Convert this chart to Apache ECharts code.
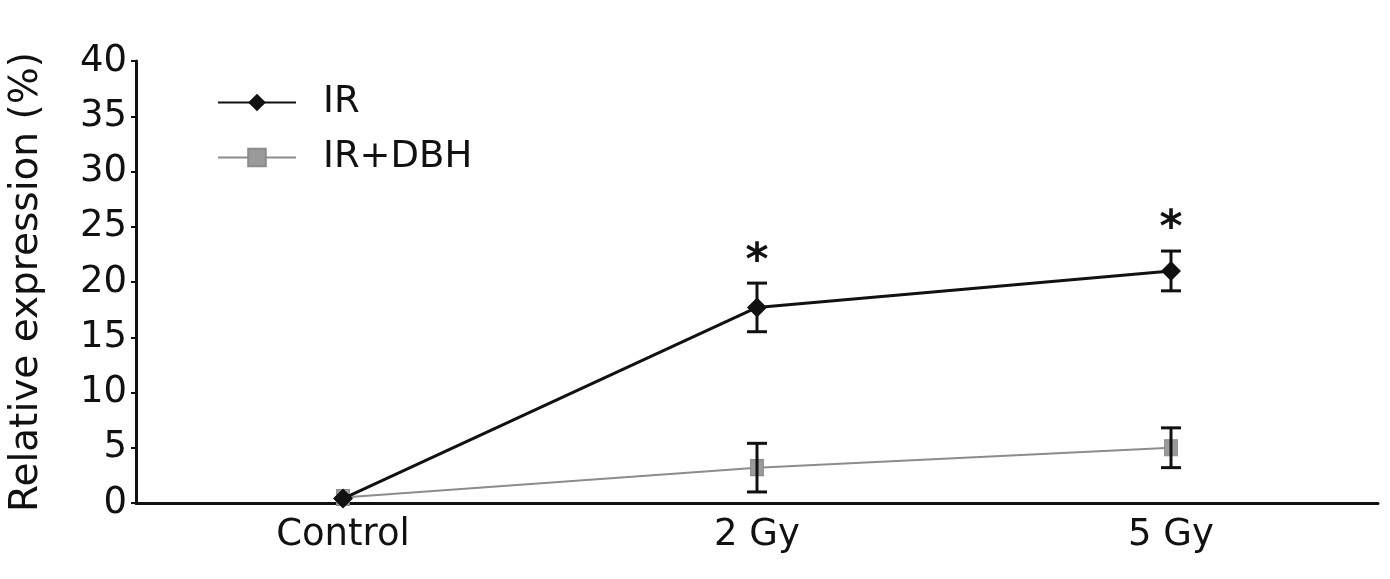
<!DOCTYPE html>
<html>
<head>
<meta charset="utf-8">
<style>html,body{margin:0;padding:0;background:#fff;}#chart{width:1390px;height:579px;}</style>
<script src="https://cdn.jsdelivr.net/npm/echarts@6/dist/echarts.min.js"></script>
</head>
<body>
<div id="chart"></div>
<script>
const categories = ['Control', '2 Gy', '5 Gy'];
const irMean = [0.4, 17.7, 21.0];
const irErr = [0, 2.2, 1.8];
const dbhMean = [0.5, 3.2, 5.0];
const dbhErr = [0, 2.2, 1.8];
const significance = ['', '*', '*'];
const yTicks = [0, 5, 10, 15, 20, 25, 30, 35, 40];

const FONT = 'DejaVu Sans';
const chart = echarts.init(document.getElementById('chart'));

function errData(mean, err, sig) {
  return mean.map((m, i) => [i, m - err[i], m + err[i], sig ? sig[i] : '']);
}

function errRender(params, api) {
  const x = api.value(0);
  const lo = api.coord([x, api.value(1)]);
  const hi = api.coord([x, api.value(2)]);
  const sig = api.value(3);
  const cap = 10;
  const style = { stroke: '#111', lineWidth: 3 };
  const children = [];
  if (hi[1] !== lo[1]) {
    children.push(
      { type: 'line', shape: { x1: hi[0], y1: hi[1], x2: lo[0], y2: lo[1] }, style },
      { type: 'line', shape: { x1: hi[0] - cap, y1: hi[1], x2: hi[0] + cap, y2: hi[1] }, style },
      { type: 'line', shape: { x1: lo[0] - cap, y1: lo[1], x2: lo[0] + cap, y2: lo[1] }, style }
    );
  }
  if (sig) {
    children.push({
      type: 'text',
      style: { text: sig, x: hi[0], y: hi[1] + 1, align: 'center', verticalAlign: 'bottom',
               fontSize: 44, fontWeight: 'bold', fontFamily: FONT, fill: '#111' }
    });
  }
  return { type: 'group', children };
}

chart.setOption({
  animation: false,
  backgroundColor: '#fff',
  grid: { left: 136, right: 12, top: 61, bottom: 76, containLabel: false, outerBoundsMode: 'none' },
  legend: {
    orient: 'vertical', left: 212, top: 79, itemGap: 18,
    itemWidth: 78, itemHeight: 22,
    textStyle: { fontSize: 37, fontFamily: FONT, color: '#111', padding: [0, 0, 0, 22] },
    data: ['IR', 'IR+DBH']
  },
  xAxis: {
    type: 'category', data: categories, boundaryGap: true,
    axisLine: { lineStyle: { color: '#111', width: 3 } },
    axisTick: { inside: true, length: 7, interval: 0, lineStyle: { color: '#111', width: 2 } },
    axisLabel: { fontSize: 37, fontFamily: FONT, color: '#111', margin: 14 },
    splitLine: { show: false }
  },
  yAxis: {
    type: 'value', min: yTicks[0], max: yTicks[yTicks.length - 1], interval: 5,
    name: 'Relative expression (%)', nameLocation: 'middle', nameGap: 90,
    nameTextStyle: { fontSize: 39, fontFamily: FONT, color: '#111' },
    axisLine: { show: true, lineStyle: { color: '#111', width: 3 } },
    axisTick: { show: true, length: 5, lineStyle: { color: '#111', width: 2 } },
    axisLabel: { fontSize: 37, fontFamily: FONT, color: '#111', margin: 9 },
    splitLine: { show: false }
  },
  series: [
    {
      name: 'IR+DBH', type: 'line', data: dbhMean, z: 3,
      symbol: 'rect', symbolSize: [13, 16],
      lineStyle: { color: '#8c8c8c', width: 2 },
      itemStyle: { color: '#9a9a9a', borderColor: '#8c8c8c', borderWidth: 1 }
    },
    {
      name: 'IR', type: 'line', data: irMean, z: 4,
      symbol: 'diamond', symbolSize: 20,
      lineStyle: { color: '#111', width: 3 },
      itemStyle: { color: '#111' }
    },
    {
      name: 'irErr', type: 'custom', renderItem: errRender, z: 5,
      data: errData(irMean, irErr, significance), encode: { x: 0, y: [1, 2] }
    },
    {
      name: 'dbhErr', type: 'custom', renderItem: errRender, z: 5,
      data: errData(dbhMean, dbhErr, null), encode: { x: 0, y: [1, 2] }
    }
  ]
});
</script>
</body>
</html>
